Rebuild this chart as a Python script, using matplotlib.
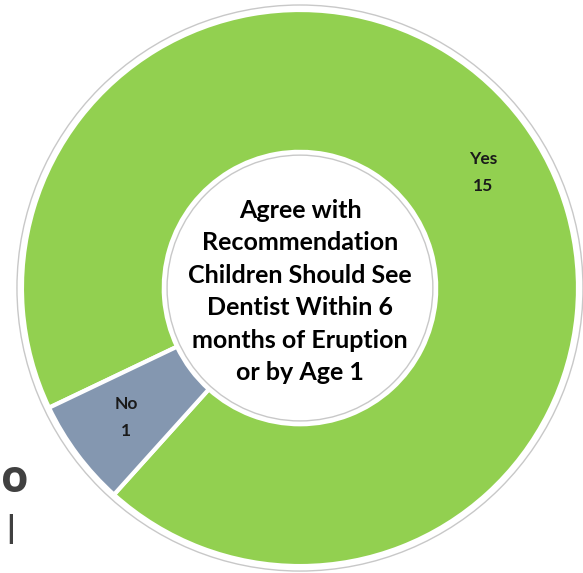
import matplotlib
matplotlib.use('Agg')
import matplotlib.pyplot as plt
from matplotlib.patches import Circle
import numpy as np

labels = ['Yes', 'No']
counts = [15, 1]
colors = ['#92D050', '#8497B0']
center_text = ('Agree with\nRecommendation\nChildren Should See\n'
               'Dentist Within 6\nmonths of Eruption\nor by Age 1')

fig = plt.figure(figsize=(5.83, 5.73), dpi=100)
ax = fig.add_axes([0, 0, 1, 1])

hole = 0.49
wedges, _ = ax.pie(counts, colors=colors, startangle=205.5, counterclock=False,
                   radius=1, wedgeprops=dict(width=1 - hole, edgecolor='white', linewidth=3))

# slice labels (Yes label sits a little below its mid-angle)
shift = [-4.5, 0]
for w, lab, n, s in zip(wedges, labels, counts, shift):
    ang = np.deg2rad((w.theta1 + w.theta2) / 2 + s)
    r = 0.78
    ax.text(r * np.cos(ang), r * np.sin(ang), '%s\n%d' % (lab, n), ha='center', va='center',
            fontsize=12.5, fontweight='bold', family='Lato', color='#1a1a1a', linespacing=1.85)

# thin grey outlines
ax.add_patch(Circle((0, 0), 1.018, fill=False, edgecolor='#c8c8c8', linewidth=1))
ax.add_patch(Circle((0, 0), hole - 0.012, fill=False, edgecolor='#c8c8c8', linewidth=1))

ax.text(0, -0.013, center_text, ha='center', va='center', fontsize=18, fontweight='bold',
        family='Lato', color='black', linespacing=1.5)

ax.set_xlim(-1.079, 1.018)
ax.set_ylim(-1.025, 1.036)
ax.set_aspect('auto')
ax.axis('off')

# cut-off slide text on the left edge
fig.text(0.002, 0.142, 'o', fontsize=32, fontweight='bold', family='Open Sans', color='#404040',
         ha='left', va='baseline')
fig.text(0.004, 0.062, '|', fontsize=22, fontweight='bold', family='Open Sans', color='#404040',
         ha='left', va='baseline')

fig.savefig('out.png', dpi=100)
